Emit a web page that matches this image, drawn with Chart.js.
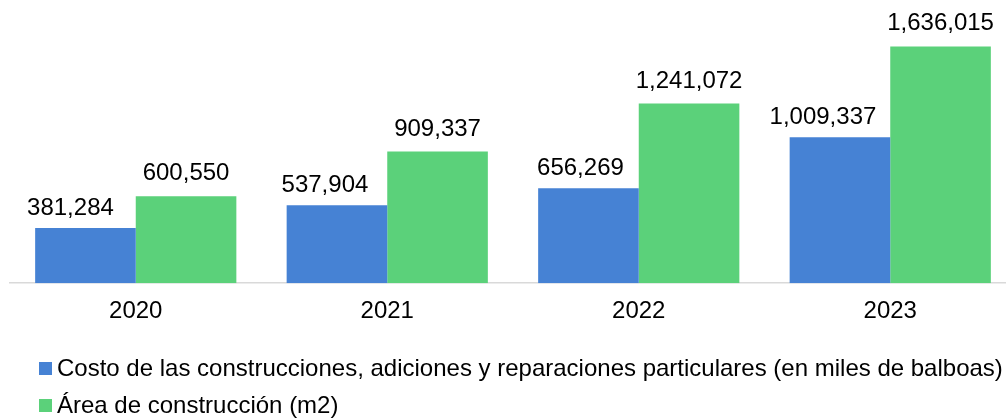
<!DOCTYPE html>
<html>
<head>
<meta charset="utf-8">
<script src="https://cdn.jsdelivr.net/npm/chart.js@4"></script>
<style>
  html, body { margin: 0; padding: 0; background: #fff; overflow: hidden; }
  #wrap { width: 1016px; height: 418px; position: relative; }
</style>
</head>
<body>
<div id="wrap"><canvas id="c"></canvas></div>
<script>
const years = ["2020", "2021", "2022", "2023"];
const costo = [381284, 537904, 656269, 1009337];
const area = [600550, 909337, 1241072, 1636015];
const seriesNames = [
  "Costo de las construcciones, adiciones y reparaciones particulares (en miles de balboas)",
  "Área de construcción (m2)",
];
const COLORS = ["#4682d4", "#5bd17a"];
const FONT = "'Liberation Sans', Arial, sans-serif";

// value labels above each bar (blue ones nudged left like the original)
const valueLabels = {
  id: "valueLabels",
  afterDatasetsDraw(chart) {
    const ctx = chart.ctx;
    const shiftX = [[-15, -12, -8, -17], [0, 0, 0, 0]];
    const gapY = [13, 16];
    ctx.save();
    ctx.font = `24px ${FONT}`;
    ctx.fillStyle = "#000";
    ctx.textAlign = "center";
    ctx.textBaseline = "alphabetic";
    chart.data.datasets.forEach((ds, i) => {
      chart.getDatasetMeta(i).data.forEach((bar, j) => {
        ctx.fillText(ds.data[j].toLocaleString("en-US"), bar.x + shiftX[i][j], bar.y - gapY[i]);
      });
    });
    ctx.restore();
  },
};

// legend stacked at the bottom left
const stackedLegend = {
  id: "stackedLegend",
  afterDraw(chart) {
    const ctx = chart.ctx;
    ctx.save();
    ctx.font = `24px ${FONT}`;
    ctx.textBaseline = "middle";
    ctx.textAlign = "left";
    chart.data.datasets.forEach((ds, i) => {
      const y = 368 + i * 37;
      ctx.fillStyle = ds.backgroundColor;
      ctx.fillRect(39, y - 6, 13, 13);
      ctx.fillStyle = "#000";
      ctx.fillText(ds.label, 57, y + 1);
    });
    ctx.restore();
  },
};

new Chart(document.getElementById("c"), {
  type: "bar",
  data: {
    labels: years,
    datasets: [
      { label: seriesNames[0], data: costo, backgroundColor: COLORS[0] },
      { label: seriesNames[1], data: area, backgroundColor: COLORS[1] },
    ],
  },
  options: {
    responsive: true,
    maintainAspectRatio: false,
    animation: false,
    layout: { padding: { left: 10, right: 0, top: 1, bottom: 78 } },
    datasets: { bar: { categoryPercentage: 0.8, barPercentage: 1.0 } },
    plugins: {
      legend: { display: false },
      tooltip: { enabled: false },
    },
    scales: {
      x: {
        grid: { display: false, drawTicks: false },
        border: { display: true, color: "#d9d9d9", width: 1.5 },
        ticks: { color: "#000", padding: 14, font: { family: FONT, size: 24 } },
      },
      y: { display: false, min: 0, max: 1950000 },
    },
  },
  plugins: [valueLabels, stackedLegend],
});
</script>
</body>
</html>
